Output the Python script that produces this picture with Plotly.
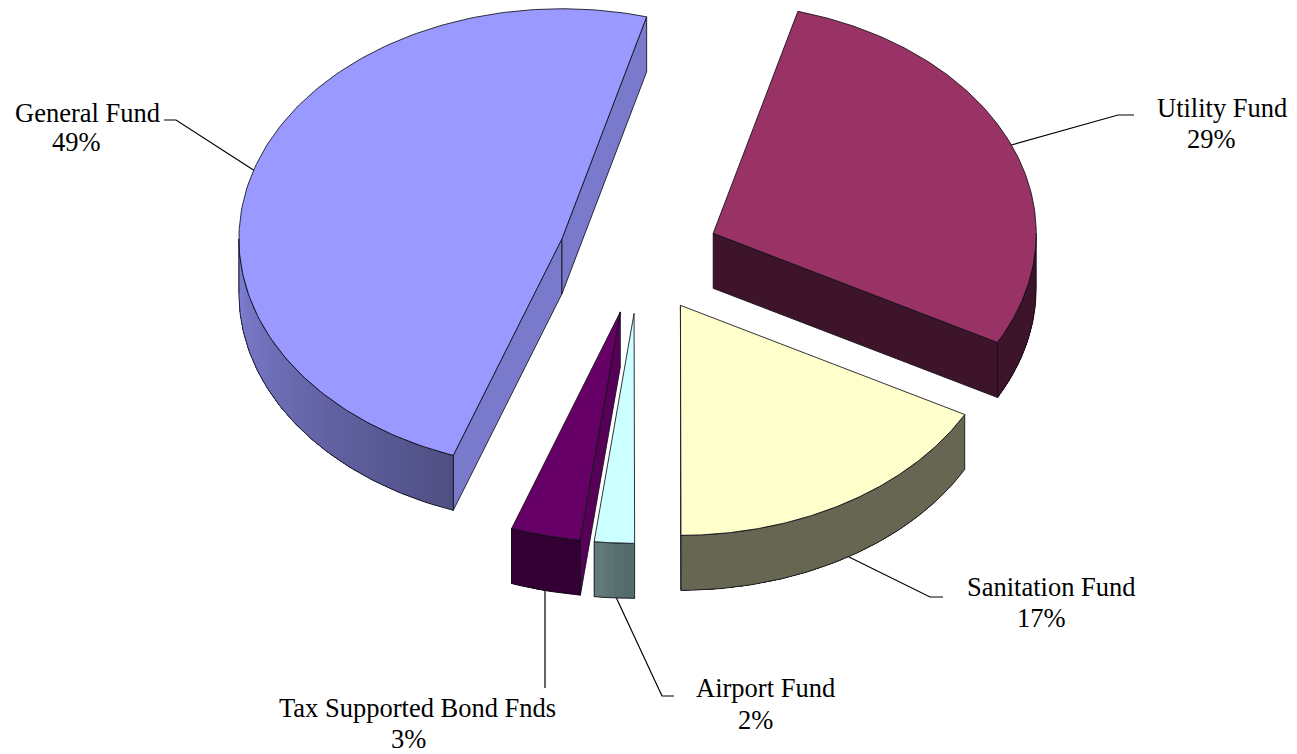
import numpy as np
import plotly.graph_objects as go

# ---- data (clockwise, beginning with the first slice) ----
funds = ["Utility Fund", "Sanitation Fund", "Airport Fund", "Tax Supported Bond Fnds", "General Fund"]
shares = [28.65, 17.1, 2.0, 3.49, 48.76]
colors = ["#993366", "#FFFFCC", "#CCFFFF", "#660066", "#9999FF"]

# ---- projection and style ----
W, H = 1297, 754
CX, CY, RX, RY, DEPTH = 639, 256, 323, 230, 55
FIRST_ANGLE = 15.2
EXPLODE = 0.25
WALL_SHADE = [0.40, 0.40, 0.50, 0.86, 0.80]
DRAW_ORDER = [4, 0, 1, 3, 2]
EDGE = "rgba(15,15,25,0.85)"
FONT = "Liberation Serif"
FONT_SIZE = 26.5
# label centre, percentage centre, leader polyline (in page pixels)
LABEL_POS = [(1222, 108), (1051, 587), (765, 688), (417, 708), (87, 113)]
PCT_POS = [(1211, 139), (1041, 618), (755, 720), (408, 739), (76, 142)]
LEADERS = [
    [(1134, 115), (1118, 115), (1008, 146)],
    [(943, 597), (930, 597), (845, 555)],
    [(674, 696), (662, 696), (615, 595)],
    [(545, 688), (545, 588)],
    [(164, 120), (176, 120), (255, 171)],
]


def shade_of(theta):
    return np.interp(theta % 360, [0, 180, 188, 200, 270, 360], [0.40, 0.40, 0.50, 0.52, 0.84, 0.84])


def mix(hex_color, f):
    r, g, b = (int(hex_color[i:i + 2], 16) for i in (1, 3, 5))
    return f"rgb({r * f:.0f},{g * f:.0f},{b * f:.0f})"


def rim(ax, ay, theta):
    t = np.radians(theta)
    return ax + RX * np.sin(t), ay - RY * np.cos(t)


fig = go.Figure()


def poly(xs, ys, fill=None, line=EDGE, width=1.0, closed=True):
    xs, ys = list(xs), list(ys)
    if closed:
        xs.append(xs[0])
        ys.append(ys[0])
    fig.add_trace(go.Scatter(
        x=xs, y=ys, mode="lines", hoverinfo="skip", showlegend=False,
        fill="toself" if fill else None, fillcolor=fill,
        line=dict(color=line, width=width), connectgaps=False,
    ))


# leaders sit under the slices
for path in LEADERS:
    poly([p[0] for p in path], [p[1] for p in path], line="#000000", width=1.2, closed=False)

cum = FIRST_ANGLE + np.cumsum([0] + [s * 3.6 for s in shares])
for i in DRAW_ORDER:
    t0, t1 = cum[i], cum[i + 1]
    mid = np.radians((t0 + t1) / 2)
    ax = CX + EXPLODE * RX * np.sin(mid)
    ay = CY - EXPLODE * RY * np.cos(mid)
    col = colors[i]
    wall = mix(col, WALL_SHADE[i])

    # cut walls that face the viewer
    if 180 < t0 % 360 < 360:
        px, py = rim(ax, ay, t0)
        poly([ax, px, px, ax], [ay, py, py + DEPTH, ay + DEPTH], wall)
    if 0 < t1 % 360 < 180:
        px, py = rim(ax, ay, t1)
        poly([ax, px, px, ax], [ay, py, py + DEPTH, ay + DEPTH], wall)

    # outer rim: painter's bands, each overlapping the rest of the arc so no seams show
    lo, hi = max(t0, 90), min(t1, 270)
    if hi > lo:
        steps = np.linspace(lo, hi, max(2, int((hi - lo) / 1.5) + 1))
        for a, b in zip(steps[:-1], steps[1:]):
            th = np.linspace(a, hi, max(2, int(hi - a) + 2))
            xr, yr = rim(ax, ay, th)
            c = mix(col, float(shade_of((a + b) / 2)))
            poly(list(xr) + list(xr[::-1]), list(yr) + list(yr[::-1] + DEPTH), c, line=c, width=0)
        th = np.linspace(lo, hi, 90)
        xr, yr = rim(ax, ay, th)
        poly(list(xr) + list(xr[::-1]), list(yr + DEPTH) + list(yr[::-1]), None, closed=True)

    # top face
    th = np.linspace(t0, t1, 160)
    xr, yr = rim(ax, ay, th)
    poly([ax] + list(xr), [ay] + list(yr), col)

annotations = []
for name, share, lp, pp in zip(funds, shares, LABEL_POS, PCT_POS):
    for text, (x, y) in ((name, lp), (f"{round(share)}%", pp)):
        annotations.append(dict(
            x=x, y=y, text=text, xref="x", yref="y", showarrow=False,
            xanchor="center", yanchor="middle",
            font=dict(family=FONT, size=FONT_SIZE, color="#000000"),
        ))

fig.update_layout(
    width=W, height=H, margin=dict(l=0, r=0, t=0, b=0),
    paper_bgcolor="#FFFFFF", plot_bgcolor="#FFFFFF", showlegend=False,
    xaxis=dict(range=[0, W], visible=False, fixedrange=True),
    yaxis=dict(range=[H, 0], visible=False, fixedrange=True),
    annotations=annotations,
)
fig.write_html("out.html", config={"displayModeBar": False},
               post_script="document.body.style.margin='0';document.body.style.overflow='hidden';")
